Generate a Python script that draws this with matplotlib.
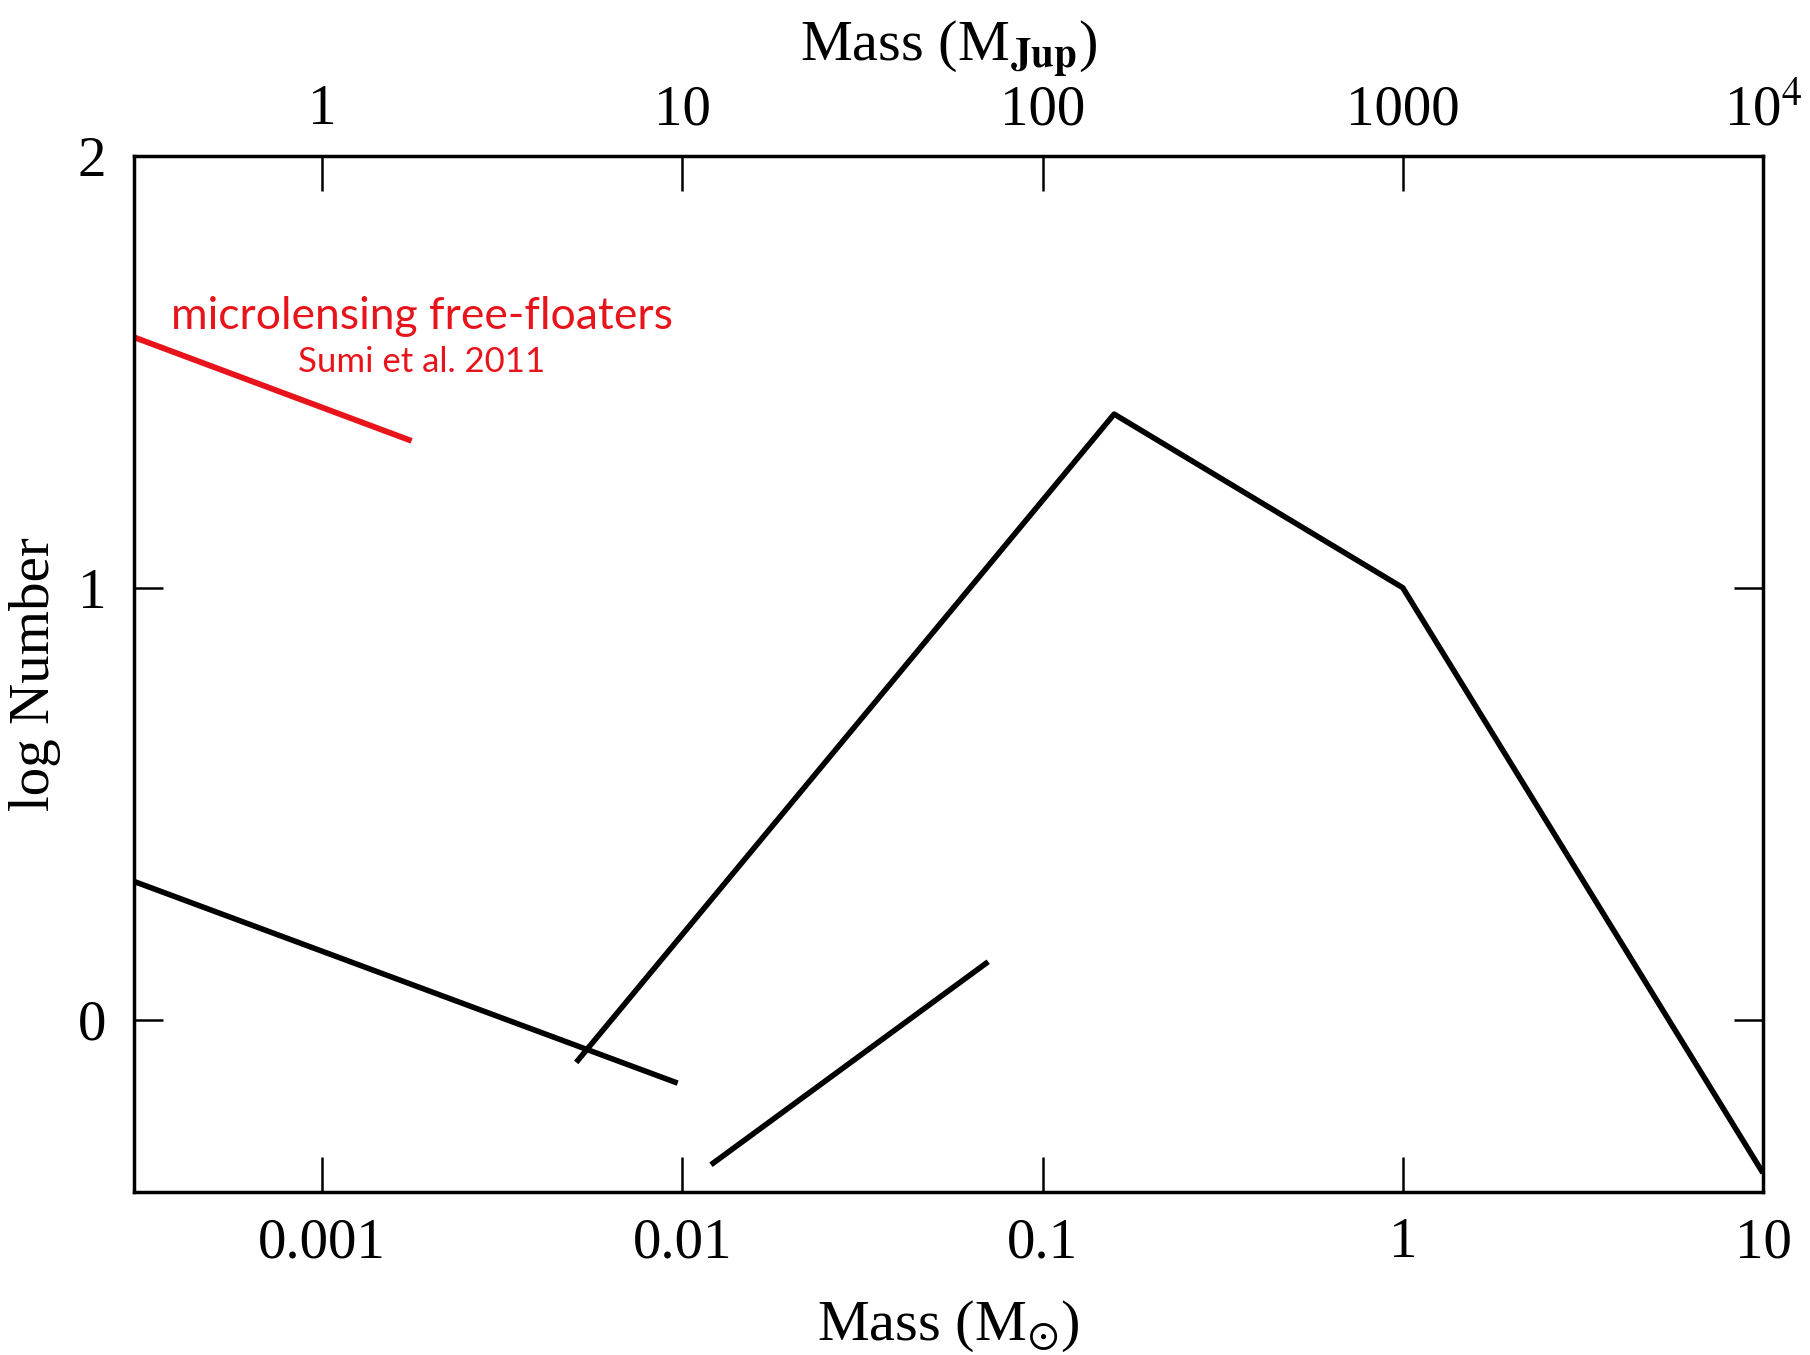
import matplotlib
matplotlib.use("Agg")
import matplotlib.pyplot as plt

# masses in solar masses, log Number
red_mass = [0.0003, 0.00177]
red_logn = [1.58, 1.34]

planet_mass = [0.0003, 0.0097]
planet_logn = [0.32, -0.147]

imf_mass = [0.00507, 0.158, 1.0, 10.0]
imf_logn = [-0.099, 1.402, 1.0, -0.355]

bd_mass = [0.0120, 0.0706]
bd_logn = [-0.336, 0.134]

bottom_ticks = [0.001, 0.01, 0.1, 1, 10]
bottom_labels = ["0.001", "0.01", "0.1", "1", "10"]
top_ticks = [1, 10, 100, 1000, 10000]
top_labels = ["1", "10", "100", "1000", "10$^{4}$"]
y_ticks = [0, 1, 2]

plt.rcParams['font.family'] = ['Liberation Serif', 'DejaVu Serif']
plt.rcParams['mathtext.fontset'] = 'stix'

fig = plt.figure(figsize=(18.10, 13.55), dpi=100)
ax = fig.add_axes([0.074, 0.120, 0.900, 0.765])

ax.plot(red_mass, red_logn, color='#e8141b', lw=4.2, solid_capstyle='butt')
ax.plot(planet_mass, planet_logn, color='black', lw=4, solid_capstyle='butt')
ax.plot(imf_mass, imf_logn, color='black', lw=4, solid_capstyle='butt')
ax.plot(bd_mass, bd_logn, color='black', lw=4, solid_capstyle='butt')

ax.set_xscale('log')
ax.set_xlim(0.0003, 10)
ax.set_ylim(-0.4, 2)

ax.set_xticks(bottom_ticks)
ax.set_xticklabels(bottom_labels)
ax.minorticks_off()
ax.set_yticks(y_ticks)
ax.tick_params(axis='x', direction='in', length=25, width=1.8, labelsize=41, pad=18, top=False)
ax.tick_params(axis='y', direction='in', length=21, width=1.8, labelsize=41, pad=20, right=True)
for s in ax.spines.values():
    s.set_linewidth(2.5)

top = ax.secondary_xaxis('top', functions=(lambda m: m * 1000, lambda m: m / 1000))
top.set_xscale('log')
top.set_xticks(top_ticks)
top.set_xticklabels(top_labels)
top.minorticks_off()
top.tick_params(direction='in', length=25, width=1.8, labelsize=41, pad=14)
top.set_xlabel(r"Mass (M$_{\mathbf{Jup}}$)", fontsize=42, labelpad=16)

ax.set_xlabel(r"Mass (M$_{\odot}$)", fontsize=42, labelpad=21)
ax.set_ylabel("log Number", fontsize=41, labelpad=12)

ax.text(0.00189, 1.60, "microlensing free-floaters", color='#e8141b', fontsize=32,
        family=['Lato', 'DejaVu Sans'], ha='center', va='baseline')
ax.text(0.00189, 1.50, "Sumi et al. 2011", color='#e8141b', fontsize=25,
        family=['Lato', 'DejaVu Sans'], ha='center', va='baseline')

fig.savefig("out.png", dpi=100)
